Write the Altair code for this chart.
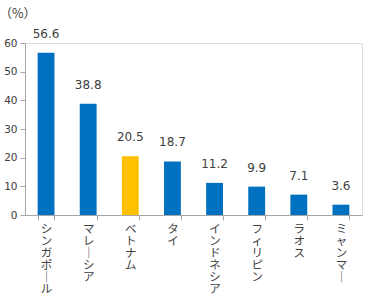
import altair as alt
import pandas as pd

countries = ["シンガポール", "マレーシア", "ベトナム", "タイ", "インドネシア", "フィリピン", "ラオス", "ミャンマー"]
values = [56.6, 38.8, 20.5, 18.7, 11.2, 9.9, 7.1, 3.6]
highlight = ["no", "no", "yes", "no", "no", "no", "no", "no"]

df = pd.DataFrame({"country": countries, "value": values, "hl": highlight})

jp_font = "Noto Sans CJK JP"
num_font = "DejaVu Sans"

base = alt.Chart(df).encode(
    x=alt.X(
        "country:N",
        sort=countries,
        scale=alt.Scale(paddingInner=0.6, paddingOuter=0.3),
        axis=alt.Axis(
            title=None,
            labelAngle=0,
            labelExpr="split(replace(datum.label, /ー/g, '｜'), '')",
            labelFont=jp_font,
            labelFontSize=11.5,
            labelLineHeight=12,
            labelColor="#404040",
            labelBaseline="top",
            labelPadding=3,
            tickBand="extent",
            tickSize=5,
            tickColor="#a6a6a6",
            domainColor="#a6a6a6",
            labelOverlap=False,
        ),
    ),
    y=alt.Y(
        "value:Q",
        scale=alt.Scale(domain=[0, 60], nice=False),
        axis=alt.Axis(
            values=[0, 10, 20, 30, 40, 50, 60],
            grid=False,
            title="（%）",
            titleAngle=0,
            titleX=-26,
            titleY=-30,
            titleAlign="left",
            titleBaseline="middle",
            titleFont=jp_font,
            titleFontSize=12.5,
            titleFontWeight="normal",
            titleColor="#404040",
            labelFont=num_font,
            labelFontSize=10.5,
            labelColor="#404040",
            labelPadding=3,
            tickSize=5,
            tickColor="#a6a6a6",
            domainColor="#a6a6a6",
        ),
    ),
)

bars = base.mark_bar().encode(
    color=alt.Color(
        "hl:N",
        scale=alt.Scale(domain=["no", "yes"], range=["#0070C0", "#FFC000"]),
        legend=None,
    )
)

texts = base.mark_text(
    baseline="bottom", dy=-12, font=num_font, fontSize=12, color="#404040"
).encode(text=alt.Text("value:Q", format=".1f"))

chart = (
    (bars + texts)
    .properties(
        width=337,
        height=172,
        autosize=alt.AutoSizeParams(type="none"),
        padding={"left": 25, "top": 43, "right": 24, "bottom": 83},
    )
    .configure_view(stroke=None)
    .configure(background="white")
)

chart.save("out.html", embed_options={"renderer": "svg", "actions": False})
